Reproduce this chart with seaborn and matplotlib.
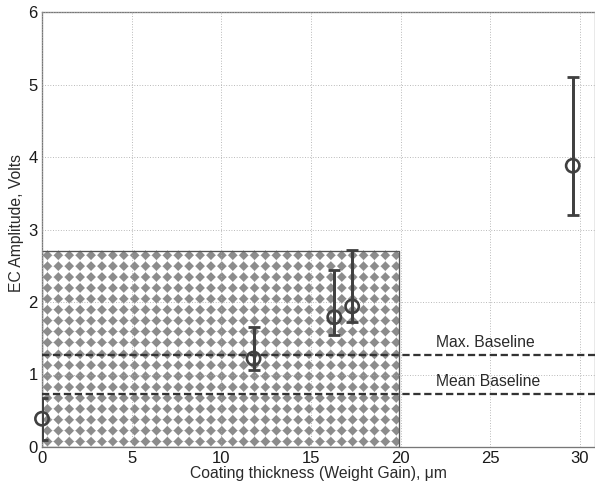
import matplotlib
matplotlib.use("Agg")
import matplotlib.pyplot as plt
import numpy as np
import pandas as pd
import seaborn as sns

# measured points (coating thickness in um, EC amplitude in volts)
thickness = [0.0, 11.8, 16.3, 17.3, 29.6]
amplitude = [0.39, 1.22, 1.79, 1.94, 3.88]
err_low = [0.29, 0.16, 0.25, 0.22, 0.68]
err_high = [0.29, 0.44, 0.65, 0.78, 1.22]

max_baseline = 1.27
mean_baseline = 0.73
zone_x = [0, 19.9]
zone_y = [0, 2.71]

df = pd.DataFrame({"thickness": thickness, "amplitude": amplitude})

sns.set_theme(style="white")
plt.rcParams["font.family"] = ["Liberation Sans", "DejaVu Sans"]

DPI = 63
PX_X = 17.93   # pixels per micron
PX_Y = 72.5    # pixels per volt
fig = plt.figure(figsize=(595 / DPI, 489 / DPI), dpi=DPI)
ax = fig.add_axes([42 / 595, 42 / 489, 553 / 595, 435 / 489])

# diamond texture for the shaded zone (one texel per output pixel)
w = int(round((zone_x[1] - zone_x[0]) * PX_X))
h = int(round((zone_y[1] - zone_y[0]) * PX_Y))
period = 10.9
yy, xx = np.mgrid[0:h, 0:w] + 0.5
u = np.abs((xx % period) - period / 2)
v = np.abs((yy % period) - period / 2)
d = u + v
alpha = np.clip((5.6 - d) / 1.5, 0, 1)
grey, white = 0.55, 1.0
tex = white + (grey - white) * alpha
ax.imshow(tex, cmap="gray", vmin=0, vmax=1, interpolation="nearest",
          extent=(zone_x[0], zone_x[1], zone_y[0], zone_y[1]),
          origin="lower", aspect="auto", zorder=1)
ax.plot([zone_x[0], zone_x[1], zone_x[1], zone_x[0], zone_x[0]],
        [zone_y[0], zone_y[0], zone_y[1], zone_y[1], zone_y[0]],
        color="#555555", lw=1.5, zorder=2)

# baselines
for yb, lab in [(max_baseline, "Max. Baseline"), (mean_baseline, "Mean Baseline")]:
    ax.axhline(yb, color="#333333", lw=2.6, ls=(0, (3.2, 1.6)), zorder=3)
    ax.text(22.0, yb + 0.07, lab, fontsize=18, color="#2a2a2a",
            va="bottom", ha="left", zorder=4)

# error bars and markers
ax.errorbar(thickness, amplitude, yerr=[err_low, err_high], fmt="none",
            ecolor="#404040", elinewidth=3.4, capsize=7, capthick=3.2, zorder=5)
sns.scatterplot(data=df, x="thickness", y="amplitude", ax=ax, marker="o",
                s=230, facecolor="none", edgecolor="#404040", linewidth=3.0,
                zorder=6, clip_on=False)

ax.set_xlim(0, 553 / PX_X)
ax.set_ylim(0, 6)
ax.set_xticks([0, 5, 10, 15, 20, 25, 30])
ax.set_yticks([0, 1, 2, 3, 4, 5, 6])
ax.grid(True, color="#aaaaaa", ls=(0, (1, 2)), lw=1.0)
ax.set_axisbelow(False)
for line in ax.get_xgridlines() + ax.get_ygridlines():
    line.set_zorder(2.5)

for s in ax.spines.values():
    s.set_color("#777777")
    s.set_linewidth(1.5)
ax.tick_params(direction="in", length=6, width=1.2, color="#555555",
               labelsize=19, labelcolor="#1a1a1a", pad=5)

ax.set_xlabel("Coating thickness (Weight Gain), \u03bcm", fontsize=18,
              color="#2a2a2a", labelpad=0)
ax.set_ylabel("EC Amplitude, Volts", fontsize=18,
              color="#2a2a2a")
ax.yaxis.set_label_coords(-18 / 553, 0.515)

fig.savefig("out.png", dpi=DPI)
